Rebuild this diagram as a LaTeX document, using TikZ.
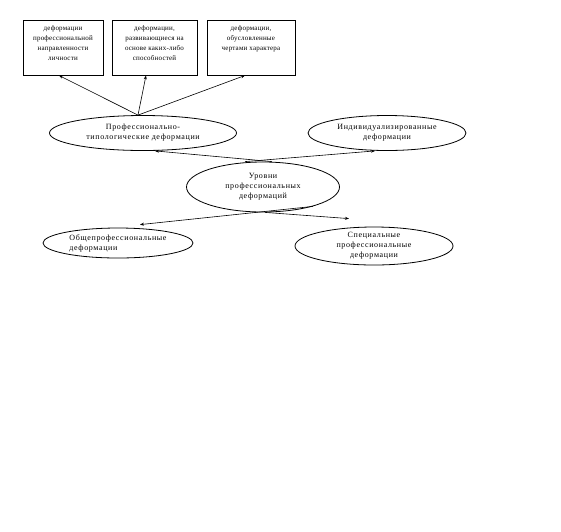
\documentclass[tikz,border=0pt]{standalone}
\usepackage{fontspec}
\setmainfont{Liberation Serif}
\newfontfamily\ellfont[LetterSpace=8]{Liberation Serif}
\newfontfamily\boxfont[LetterSpace=3]{Liberation Serif}
\usetikzlibrary{shapes.geometric,arrows.meta}
\begin{document}
\begin{tikzpicture}[x=1pt,y=-1pt,
  box/.style={draw, line width=0.9pt, inner sep=0pt, minimum height=55pt},
  boxtxt/.style={anchor=north, align=center, inner sep=0pt, font=\boxfont\fontsize{7}{10}\selectfont},
  ell/.style={draw, ellipse, line width=0.8pt, inner sep=0pt},
  elltxt/.style={align=center, inner sep=0pt, font=\ellfont\fontsize{8}{10}\selectfont},
  arr/.style={line width=0.6pt, -{Stealth[length=4pt,width=3pt]}}]
\useasboundingbox (0,0) rectangle (561,531);
% boxes
\node[box, minimum width=80pt] (b1) at (63,47.5) {};
\node[box, minimum width=85pt] (b2) at (154.5,47.5) {};
\node[box, minimum width=88pt] (b3) at (251,47.5) {};
\node[boxtxt] (b1t) at ([yshift=-6pt]b1.north) {деформации\\профессиональной\\направленности\\личности};
\node[boxtxt] (b2t) at ([yshift=-6pt]b2.north) {деформации,\\развивающиеся на\\основе каких-либо\\способностей};
\node[boxtxt] (b3t) at ([yshift=-6pt]b3.north) {деформации,\\обусловленные\\чертами характера};
% ellipses
\node[ell, minimum width=187pt, minimum height=35pt] (e1) at (143,133) {};
\node[elltxt] (e1t) at (e1) {Профессионально-\\типологические деформации};
\node[ell, minimum width=158pt, minimum height=35pt] (e2) at (387,133) {};
\node[elltxt] (e2t) at (e2) {Индивидуализированные\\деформации};
\node[ell, minimum width=153pt, minimum height=50pt] (u) at (263,187) {};
\node[elltxt] (ut) at (u) {Уровни\\профессиональных\\деформаций};
\node[ell, minimum width=150pt, minimum height=30pt] (e4) at (118,243) {};
\node[elltxt, align=left] (e4t) at (e4) {Общепрофессиональные\\деформации};
\node[ell, minimum width=158pt, minimum height=38pt] (e5) at (374,246) {};
\node[elltxt] (e5t) at (e5) {Специальные\\профессиональные\\деформации};
% connectors
\draw[arr] ([xshift=-5pt]e1.north) -- ([xshift=-4pt]b1.south);
\draw[arr] ([xshift=-5pt]e1.north) -- ([xshift=-8.5pt]b2.south);
\draw[arr] ([xshift=-5pt]e1.north) -- ([xshift=-6pt]b3.south);
\draw[arr] ([xshift=9pt]u.north) -- ([xshift=12pt]e1.south);
\draw[arr] ([xshift=-18pt]u.north) -- ([xshift=-12pt]e2.south);
\draw[arr] ([xshift=50pt,yshift=6pt]u.south) -- ([xshift=22pt,yshift=3pt]e4.north);
\draw[arr] ([xshift=2pt]u.south) -- ([xshift=-25pt,yshift=8pt]e5.north);
\end{tikzpicture}
\end{document}
